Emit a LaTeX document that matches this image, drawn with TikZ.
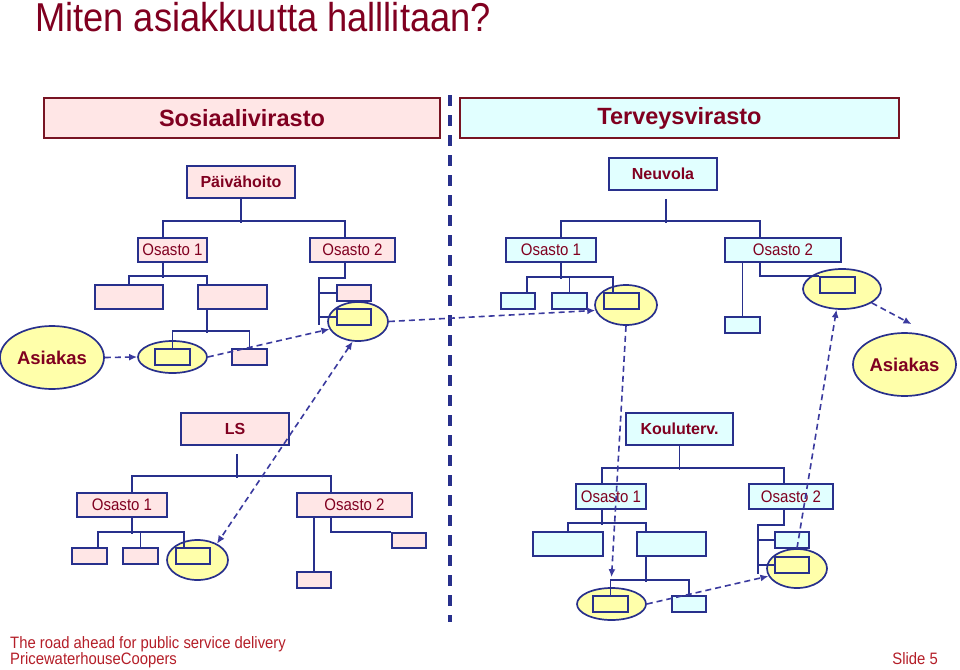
\documentclass[tikz,border=0pt]{standalone}
\usepackage{fontspec}
\setmainfont{Liberation Sans}
\newfontfamily\narrowfont[FakeStretch=0.9]{Liberation Sans}
\usepackage{xcolor}
\definecolor{wine}{RGB}{128,  0, 32}
\definecolor{boxred}{RGB}{120, 20, 35}
\definecolor{navy}{RGB}{ 40, 48,140}
\definecolor{flowblue}{RGB}{ 58, 58,158}
\definecolor{rose}{RGB}{255,230,230}
\definecolor{ice}{RGB}{225,255,255}
\definecolor{lemon}{RGB}{255,255,170}
\definecolor{footred}{RGB}{180, 30, 40}
\usepackage{tikz}
\usetikzlibrary{
  shapes.geometric,
  arrows.meta, calc
}
\tikzset{
  virasto/.style={draw=boxred, line width=1.8pt, inner sep=0pt,
    minimum height=40pt, text=wine,
    font=\bfseries\fontsize{23.5}{28}\selectfont},
  unitbox/.style={draw=navy, line width=1.8pt, inner sep=0pt,
    minimum height=32pt, text=wine,
    font=\bfseries\fontsize{16}{19}\selectfont},
  osasto/.style={draw=navy, line width=1.8pt, inner sep=0pt,
    minimum height=24pt, text=wine,
    font=\narrowfont\fontsize{16.7}{20}\selectfont},
  leafbox/.style={draw=navy, line width=1.7pt, inner sep=0pt,
    minimum height=16pt},
  pinkfill/.style={fill=rose},
  cyanfill/.style={fill=ice},
  yellowfill/.style={fill=lemon},
  clientell/.style={ellipse, draw=navy, line width=1.7pt,
    fill=lemon, inner sep=0pt},
  asiakasnode/.style={clientell, text=wine,
    font=\bfseries\fontsize{18.5}{22}\selectfont},
  treeline/.style={draw=navy, line width=1.8pt},
  flowarrow/.style={-{Latex[length=8pt,width=7pt]}, color=flowblue,
    line width=1.6pt, dash pattern=on 6pt off 4pt},
  flowboth/.style={flowarrow,
    {Latex[length=8pt,width=7pt]}-{Latex[length=8pt,width=7pt]}},
  sepline/.style={color=navy, line width=3.5pt, dash pattern=on 11pt off 9pt},
  footer/.style={text=footred, inner sep=0pt,
    font=\narrowfont\fontsize{16.5}{19}\selectfont}
}

\begin{document}
\begin{tikzpicture}[x=1pt, y=-1pt]
  \useasboundingbox (0,0) rectangle (960,669);

  % title
  \node[anchor=base west, inner sep=0pt, text=wine,
    font=\narrowfont\fontsize{40.3}{46}\selectfont] (title) at (35,32)
    {Miten asiakkuutta halllitaan?};

  % client ellipses
  \node[clientell, minimum width=69pt, minimum height=32pt] (pell1) at (172.5,357) {};
  \node[clientell, minimum width=60pt, minimum height=39pt] (pell2) at (358,321.5) {};
  \node[clientell, minimum width=62pt, minimum height=40pt] (nell1) at (626,305) {};
  \node[clientell, minimum width=78pt, minimum height=40pt] (nell2) at (842,289) {};
  \node[clientell, minimum width=61pt, minimum height=40pt] (lell)  at (197.5,560) {};
  \node[clientell, minimum width=69pt, minimum height=32pt] (kell1) at (611.5,604) {};
  \node[clientell, minimum width=60pt, minimum height=39pt] (kell2) at (797,568.5) {};
  \node[asiakasnode, minimum width=104pt, minimum height=63pt] (asL) at (52,357.5) {Asiakas};
  \node[asiakasnode, minimum width=103pt, minimum height=63pt] (asR) at (904.5,364.5) {Asiakas};

  % separator
  \coordinate (septop) at (450,95);
  \coordinate (sepbot) at (450,622);
  \draw[sepline] (septop) -- (sepbot);

  \node[virasto, fill=rose, minimum width=396pt] (sosvir) at (242,118)   {Sosiaalivirasto};
  \node[virasto, fill=ice,  minimum width=439pt] (tervir) at (679.5,118) {Terveysvirasto};

  % Paivahoito
  \node[unitbox, pinkfill, minimum width=108pt] (paiva) at (241,182)   {Päivähoito};
  \node[osasto,  pinkfill, minimum width=69pt]  (pOs1)  at (172.5,250) {Osasto 1};
  \node[osasto,  pinkfill, minimum width=85pt]  (pOs2)  at (352.5,250) {Osasto 2};
  \node[leafbox, pinkfill, minimum width=68pt, minimum height=24pt] (pA) at (129,297) {};
  \node[leafbox, pinkfill, minimum width=69pt, minimum height=24pt] (pB) at (232.5,297) {};
  \node[leafbox, yellowfill, minimum width=35pt] (pC) at (172.5,357) {};
  \node[leafbox, pinkfill,   minimum width=35pt] (pD) at (249.5,357) {};
  \node[leafbox, pinkfill,   minimum width=34pt] (pE) at (354,293) {};
  \node[leafbox, yellowfill, minimum width=34pt] (pF) at (354,317) {};

  \draw[treeline] (paiva.south) -- ++(0,24);
  \draw[treeline] ([xshift=-9.5pt]pOs1.north) -- ++(0,-16) -| ([xshift=-7.5pt]pOs2.north);
  \draw[treeline] ([xshift=-9.5pt]pOs1.south) -- ++(0,15);
  \draw[treeline] (pA.north) -- ++(0,-8) -| ([xshift=-25.5pt]pB.north);
  \draw[treeline] ([xshift=-25.5pt]pB.south) -- ++(0,23);
  \draw[treeline] (pC.north) -- ++(0,-17) -| (pD.north);
  \draw[treeline] ([xshift=-7.5pt]pOs2.south) -- ++(0,15) -| ++(-26,47);
  \draw[treeline] (pE.west) -- ++(-18,0);
  \draw[treeline] (pF.west) -- ++(-18,0);

  % Neuvola
  \node[unitbox, cyanfill, minimum width=108pt] (neuv) at (663,174) {Neuvola};
  \node[osasto,  cyanfill, minimum width=90pt]  (nOs1) at (551,250) {Osasto 1};
  \node[osasto,  cyanfill, minimum width=116pt] (nOs2) at (783,250) {Osasto 2};
  \node[leafbox, cyanfill,   minimum width=34pt] (nA) at (518,301)   {};
  \node[leafbox, cyanfill,   minimum width=35pt] (nB) at (569.5,301) {};
  \node[leafbox, yellowfill, minimum width=35pt] (nC) at (621.5,301) {};
  \node[leafbox, cyanfill,   minimum width=35pt] (nD) at (742.5,325) {};
  \node[leafbox, yellowfill, minimum width=35pt] (nE) at (837.5,285) {};

  \draw[treeline] ($(neuv.south)+(3,8)$) -- ++(0,24);
  \draw[treeline] ([xshift=10pt]nOs1.north) -- ++(0,-16) -| ([xshift=-23pt]nOs2.north);
  \draw[treeline] ([xshift=10pt]nOs1.south) -- ++(0,16);
  \draw[treeline] ([xshift=9pt]nA.north) -- ++(0,-15) -| ([xshift=-8.5pt]nC.north);
  \draw[treeline] (nB.north) -- ++(0,-15);
  \draw[treeline] (nD.north |- nOs2.south) -- (nD.north);
  \draw[treeline] ([xshift=-23pt]nOs2.south) |- (nE.north west);

  % LS
  \node[unitbox, pinkfill, minimum width=108pt] (ls)   at (235,429)   {LS};
  \node[osasto,  pinkfill, minimum width=90pt]  (lOs1) at (122,505)   {Osasto 1};
  \node[osasto,  pinkfill, minimum width=115pt] (lOs2) at (354.5,505) {Osasto 2};
  \node[leafbox, pinkfill,   minimum width=35pt] (lA) at (89.5,556)  {};
  \node[leafbox, pinkfill,   minimum width=35pt] (lB) at (140.5,556) {};
  \node[leafbox, yellowfill, minimum width=34pt] (lC) at (193,556)   {};
  \node[leafbox, pinkfill,   minimum width=34pt] (lD) at (314,580)   {};
  \node[leafbox, pinkfill,   minimum width=34pt, minimum height=15pt] (lE) at (409,540.5) {};

  \draw[treeline] ($(ls.south)+(2,8)$) -- ++(0,24);
  \draw[treeline] ([xshift=10pt]lOs1.north) -- ++(0,-16) -| ([xshift=-23.5pt]lOs2.north);
  \draw[treeline] ([xshift=10pt]lOs1.south) -- ++(0,16);
  \draw[treeline] ([xshift=8.5pt]lA.north) -- ++(0,-15) -| ([xshift=-9pt]lC.north);
  \draw[treeline] (lB.north) -- ++(0,-15);
  \draw[treeline] (lD.north |- lOs2.south) -- (lD.north);
  \draw[treeline] ([xshift=-23.5pt]lOs2.south) |- (lE.north west);

  % Kouluterveydenhuolto
  \node[unitbox, cyanfill, minimum width=107pt] (kou) at (679.5,429) {Kouluterv.};
  \node[osasto,  cyanfill, minimum width=70pt, minimum height=25pt] (kOs1) at (611,496.5) {Osasto 1};
  \node[osasto,  cyanfill, minimum width=84pt, minimum height=25pt] (kOs2) at (791,496.5) {Osasto 2};
  \node[leafbox, cyanfill, minimum width=70pt, minimum height=24pt] (kA) at (568,544)   {};
  \node[leafbox, cyanfill, minimum width=69pt, minimum height=24pt] (kB) at (671.5,544) {};
  \node[leafbox, yellowfill, minimum width=35pt] (kC) at (610.5,604) {};
  \node[leafbox, cyanfill,   minimum width=34pt] (kD) at (689,604)   {};
  \node[leafbox, cyanfill,   minimum width=34pt] (kE) at (792,540)   {};
  \node[leafbox, yellowfill, minimum width=34pt] (kF) at (792,565)   {};

  \draw[treeline] (kou.south) -- ++(0,24);
  \draw[treeline] ([xshift=-9pt]kOs1.north) -- ++(0,-15) -| ([xshift=-7pt]kOs2.north);
  \draw[treeline] ([xshift=-9pt]kOs1.south) -- ++(0,15);
  \draw[treeline] (kA.north) -- ++(0,-8) -| ([xshift=-25.5pt]kB.north);
  \draw[treeline] ([xshift=-25.5pt]kB.south) -- ++(0,25);
  \draw[treeline] (kC.north) -- ++(0,-15) -| (kD.north);
  \draw[treeline] ([xshift=-7pt]kOs2.south) -- ++(0,15) -| ++(-26,49);
  \draw[treeline] (kE.west) -- ++(-17,0);
  \draw[treeline] (kF.west) -- ++(-17,0);

  % client path
  \draw[flowarrow] (asL.east) -- (pell1.west);
  \draw[flowarrow] (pell1.east) -- (pell2.195);
  \draw[flowarrow] (pell2.east) -- (nell1.190);
  \draw[flowboth]  (pell2.255) -- (lell.40);
  \draw[flowarrow] (nell1.south) -- ([yshift=10pt]kell1.north);
  \draw[flowarrow] (kell1.east) -- (kell2.195);
  \draw[flowarrow] (kell2.north) -- (nell2.255);
  \draw[flowarrow] (nell2.-25) -- ([shift={(7pt,8pt)}]asR.north);

  % footer
  \node[footer, anchor=base west] (road)  at (10,648)  {The road ahead for public service delivery};
  \node[footer, anchor=base west] (pwc)   at (10,664)  {PricewaterhouseCoopers};
  \node[footer, anchor=base east] (slide) at (938,664) {Slide 5};

\end{tikzpicture}
\end{document}
